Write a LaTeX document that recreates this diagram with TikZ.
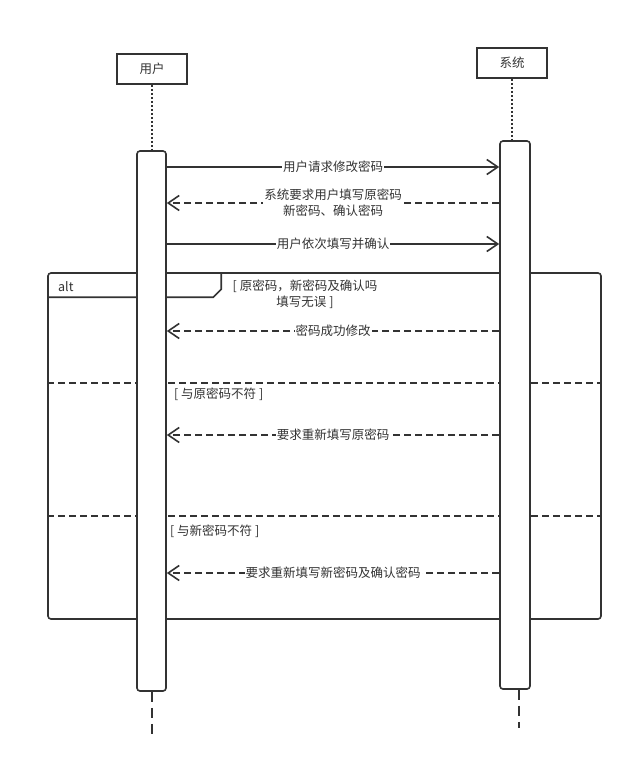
\documentclass[tikz,border=0pt]{standalone}
\usepackage{fontspec}
\setmainfont{Noto Sans CJK SC}
\usetikzlibrary{arrows.meta,calc}
\definecolor{ink}{HTML}{333333}
\tikzset{
  actor/.style={draw=ink, line width=1.6pt, fill=white, minimum width=70pt, minimum height=30pt, inner sep=0pt, text=ink},
  actbar/.style={draw=ink, line width=1.6pt, fill=white, rounded corners=3pt, inner sep=0pt},
  lifedot/.style={draw=ink, line width=1.6pt, dash pattern=on 2pt off 2pt},
  lifedash/.style={draw=ink, line width=1.6pt, dash pattern=on 10pt off 6pt},
  syncmsg/.style={draw=ink, line width=1.6pt, -{Straight Barb[length=11pt,width=15pt,line width=1.6pt]}},
  retmsg/.style={draw=ink, line width=1.6pt, dash pattern=on 7pt off 4pt, -{Straight Barb[length=11pt,width=15pt,line width=1.6pt]}},
  msglabel/.style={fill=white, inner sep=1pt, text=ink, align=center},
  altframe/.style={draw=ink, line width=1.6pt, rounded corners=3pt, inner sep=0pt},
  sepline/.style={draw=ink, line width=1.6pt, dash pattern=on 7pt off 4pt},
  guard/.style={text=ink, inner sep=0pt, align=center}
}
\begin{document}
\begin{tikzpicture}[x=1pt,y=-1pt,font=\fontsize{12.5}{16}\selectfont]
\useasboundingbox[fill=white] (0,0) rectangle (633,768);

% actors
\node[actor] (user) at (152,69) {用户};
\node[actor] (sys) at (512,63) {系统};

% alt frame
\node[altframe, minimum width=553pt, minimum height=346pt] (alt) at (324.5,446) {};
\coordinate (tabA) at ($(alt.north west)+(0,25)$);
\coordinate (tabB) at ($(alt.north west)+(166,25)$);
\coordinate (tabC) at ($(alt.north west)+(174,17)$);
\coordinate (tabD) at ($(alt.north west)+(174,0)$);
\draw[draw=ink, line width=1.6pt] (tabA) -- (tabB) -- (tabC) -- (tabD);
\node[text=ink, anchor=west, inner sep=0pt] (altlbl) at (58,287) {alt};
\node[guard] (g1) at (305,294) {[ 原密码，新密码及确认吗\\填写无误 ]};
\coordinate (s1) at (0,383);
\coordinate (s2) at (0,516);
\draw[sepline] (alt.west |- s1) -- (alt.east |- s1);
\draw[sepline] (alt.west |- s2) -- (alt.east |- s2);
\node[guard, anchor=west] (g2) at (174,394) {[ 与原密码不符 ]};
\node[guard, anchor=west] (g3) at (170,531) {[ 与新密码不符 ]};

% lifelines
\node[actbar, minimum width=29pt, minimum height=540pt] (ubar) at (151.5,421) {};
\node[actbar, minimum width=30pt, minimum height=548pt] (sbar) at (515,415) {};
\draw[lifedot] (user.south) -- (user.south |- ubar.north);
\draw[lifedot] (sys.south) -- (sys.south |- sbar.north);
\coordinate (uend) at (152,735);
\coordinate (send) at (519,728);
\draw[lifedash] (uend |- ubar.south) -- (uend);
\draw[lifedash] (send |- sbar.south) -- (send);

% messages
\coordinate (m1) at (0,167);
\coordinate (m2) at (0,203);
\coordinate (m3) at (0,244);
\coordinate (m4) at (0,331);
\coordinate (m5) at (0,435);
\coordinate (m6) at (0,573);
\draw[syncmsg] (ubar.east |- m1) -- node[msglabel] {用户请求修改密码} (sbar.west |- m1);
\draw[retmsg] (sbar.west |- m2) -- node[msglabel] {系统要求用户填写原密码\\新密码、确认密码} (ubar.east |- m2);
\draw[syncmsg] (ubar.east |- m3) -- node[msglabel] {用户依次填写并确认} (sbar.west |- m3);
\draw[retmsg] (sbar.west |- m4) -- node[msglabel] {密码成功修改} (ubar.east |- m4);
\draw[retmsg] (sbar.west |- m5) -- node[msglabel] {要求重新填写原密码} (ubar.east |- m5);
\draw[retmsg] (sbar.west |- m6) -- node[msglabel] {要求重新填写新密码及确认密码} (ubar.east |- m6);
\end{tikzpicture}
\end{document}
